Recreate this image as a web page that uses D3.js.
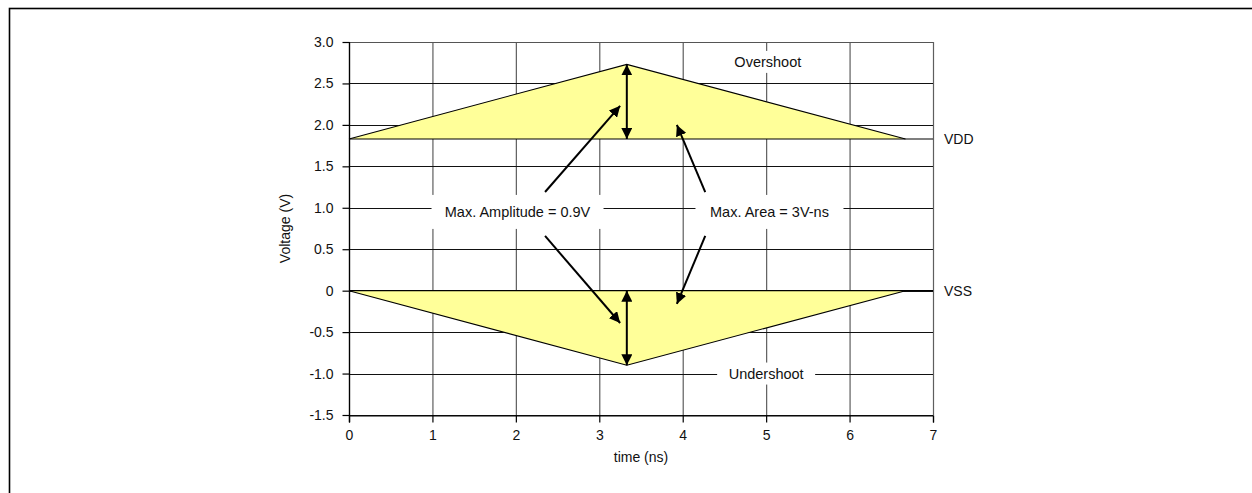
<!DOCTYPE html>
<html><head><meta charset="utf-8">
<script src="https://cdn.jsdelivr.net/npm/d3@7"></script>
<style>body{margin:0;background:#fff}svg{display:block}text{font-family:"Liberation Sans",Arial,sans-serif;fill:#111}</style>
</head><body><svg id="c" width="1252" height="493"></svg>
<script>
const xTicks = [0,1,2,3,4,5,6,7];
const yTicks = [3.0,2.5,2.0,1.5,1.0,0.5,0,-0.5,-1.0,-1.5];
const yTickLabels = ["3.0","2.5","2.0","1.5","1.0","0.5","0","-0.5","-1.0","-1.5"];
const overshoot = [[0,1.83],[3.33,2.73],[6.67,1.83]];
const undershoot = [[0,0],[3.33,-0.9],[6.67,0]];
const refLines = [{name:"VDD", v:1.83},{name:"VSS", v:0}];
const ampArrows = [[[3.33,1.83],[3.33,2.73]],[[3.33,0],[3.33,-0.9]]];
const pointerArrows = [
  [[2.35,1.19],[3.25,2.23]],
  [[2.35,0.66],[3.25,-0.39]],
  [[4.27,1.19],[3.93,2.0]],
  [[4.27,0.66],[3.93,-0.16]]
];
const labels = [
  {text:"Overshoot", x:5.02, y:2.76, w:92, h:22},
  {text:"Undershoot", x:5.0, y:-1.0, w:98, h:22},
  {text:"Max. Amplitude = 0.9V", x:2.02, y:0.95, w:172, h:34},
  {text:"Max. Area = 3V-ns", x:5.04, y:0.95, w:148, h:34}
];

const svg = d3.select("#c");
const m = {l:349, t:42, r:933, b:415};
const x = d3.scaleLinear().domain([0,7]).range([m.l,m.r]);
const y = d3.scaleLinear().domain([-1.5,3.0]).range([m.b,m.t]);
const FONT = "Liberation Sans, Arial, sans-serif";

// outer frame
svg.append("rect").attr("x",9.5).attr("y",8.5).attr("width",1300).attr("height",600)
  .attr("fill","none").attr("stroke","#000").attr("stroke-width",1.6);

// grid
const g = svg.append("g");
g.selectAll(".vg").data(xTicks).join("line")
  .attr("x1",d=>x(d)+0.5).attr("x2",d=>x(d)+0.5).attr("y1",m.t).attr("y2",m.b)
  .attr("stroke",d=>d===0?"#000":"#5e5e5e").attr("stroke-width",1.2);
g.selectAll(".hg").data(yTicks).join("line")
  .attr("x1",m.l).attr("x2",m.r).attr("y1",d=>Math.round(y(d))+0.5).attr("y2",d=>Math.round(y(d))+0.5)
  .attr("stroke",d=>d===3?"#555":"#111").attr("stroke-width",1.2);

// triangles
const line = d3.line().x(d=>x(d[0])).y(d=>y(d[1]));
[overshoot, undershoot].forEach(data=>{
  svg.append("path").attr("d", line(data)+"Z").attr("fill","#ffff99").attr("stroke","none");
  svg.append("path").attr("d", line(data)).attr("fill","none").attr("stroke","#000").attr("stroke-width",1.1);
});
// ref lines
svg.selectAll(".ref").data(refLines).join("line")
  .attr("x1",m.l).attr("x2",m.r).attr("y1",d=>y(d.v)).attr("y2",d=>y(d.v))
  .attr("stroke","#000").attr("stroke-width",1.1);
svg.selectAll(".reft").data(refLines).join("text")
  .attr("x",m.r+11).attr("y",d=>y(d.v)).attr("dy","0.35em").attr("font-size",14).text(d=>d.name);

// axes
const ya = d3.axisLeft(y).tickValues(yTicks).tickFormat((d,i)=>yTickLabels[i]).tickSize(7).tickPadding(9);
const yg = svg.append("g").attr("transform",`translate(${m.l+0.5},0)`).call(ya);
yg.select(".domain").remove();
yg.selectAll("line").attr("stroke","#000").attr("stroke-width",1.2);
yg.selectAll("text").attr("font-size",14).attr("font-family",FONT).attr("fill","#111");
const xa = d3.axisBottom(x).tickValues(xTicks).tickFormat(d3.format("d")).tickSize(7).tickPadding(8);
const xg = svg.append("g").attr("transform",`translate(0,${m.b+0.5})`).call(xa);
xg.select(".domain").attr("stroke","#000").attr("stroke-width",1.2);
xg.selectAll("line").attr("stroke","#000").attr("stroke-width",1.2);
xg.selectAll("text").attr("font-size",14).attr("font-family",FONT).attr("fill","#111");
yg.append("line").attr("x1",0).attr("x2",0).attr("y1",m.t).attr("y2",m.b+7).attr("stroke","#000").attr("stroke-width",1.2);

svg.append("text").attr("x",(m.l+m.r)/2).attr("y",462).attr("text-anchor","middle").attr("font-size",14).text("time (ns)");
svg.append("text").attr("transform",`translate(290,${(m.t+m.b)/2}) rotate(-90)`).attr("text-anchor","middle").attr("font-size",14).text("Voltage (V)");

// arrow markers
const defs = svg.append("defs");
defs.append("marker").attr("id","ah").attr("viewBox","0 0 10 10").attr("refX",10).attr("refY",5)
  .attr("markerWidth",5.5).attr("markerHeight",5.5).attr("markerUnits","strokeWidth").attr("orient","auto-start-reverse")
  .append("path").attr("d","M0,0L10,5L0,10Z").attr("fill","#000");

svg.selectAll(".amp").data(ampArrows).join("line")
  .attr("x1",d=>x(d[0][0])).attr("y1",d=>y(d[0][1])).attr("x2",d=>x(d[1][0])).attr("y2",d=>y(d[1][1]))
  .attr("stroke","#000").attr("stroke-width",2).attr("marker-start","url(#ah)").attr("marker-end","url(#ah)");
svg.selectAll(".ptr").data(pointerArrows).join("line")
  .attr("x1",d=>x(d[0][0])).attr("y1",d=>y(d[0][1])).attr("x2",d=>x(d[1][0])).attr("y2",d=>y(d[1][1]))
  .attr("stroke","#000").attr("stroke-width",2).attr("marker-end","url(#ah)");

// labels with white boxes
const lg = svg.selectAll(".lab").data(labels).join("g").attr("transform",d=>`translate(${x(d.x)},${y(d.y)})`);
lg.append("rect").attr("x",d=>-d.w/2).attr("y",d=>-d.h/2).attr("width",d=>d.w).attr("height",d=>d.h).attr("fill","#fff");
lg.append("text").attr("text-anchor","middle").attr("dy","0.35em").attr("font-size",14.5).text(d=>d.text);
</script></body></html>
